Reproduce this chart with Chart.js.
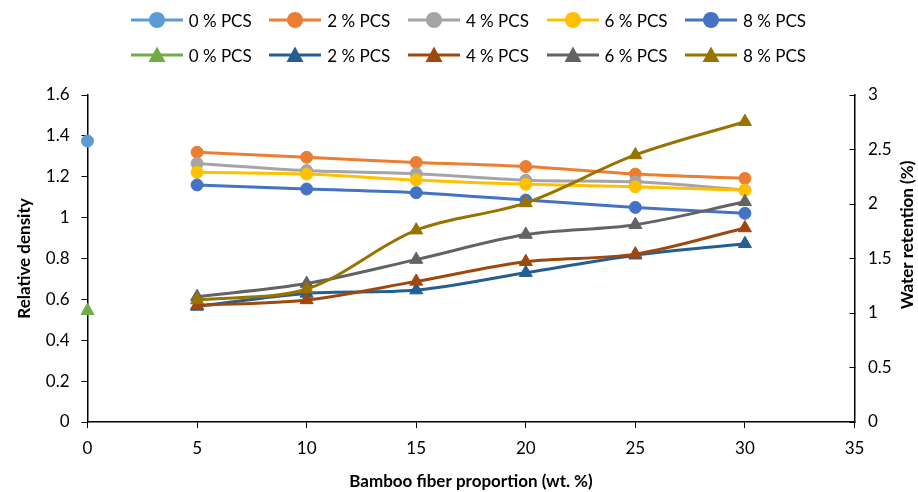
<!DOCTYPE html>
<html>
<head>
<meta charset="utf-8">
<script src="https://cdn.jsdelivr.net/npm/chart.js@4"></script>
<style>
  body { margin: 0; background: #fff; }
  #wrap { position: relative; width: 918px; height: 492px; font-family: Lato, "Open Sans", sans-serif; }
  #c { position: absolute; left: 0; top: 0; }
  .item { position: absolute; height: 20px; display: flex; align-items: center; font-size: 17px; color: #000; white-space: nowrap; }
  .item svg { margin-right: 6px; }
</style>
</head>
<body>
<div id="wrap">
  <canvas id="c" width="918" height="492"></canvas>
</div>
<script>
// x values (bamboo fiber, wt. %)
const fiberPlain = [0];
const fiberMixed = [5, 10, 15, 20, 25, 30];

const pcsLabels = ['0 % PCS', '2 % PCS', '4 % PCS', '6 % PCS', '8 % PCS'];

// relative density (left axis)
const density0 = [1.375];
const density2 = [1.32, 1.295, 1.27, 1.25, 1.213, 1.192];
const density4 = [1.265, 1.23, 1.215, 1.183, 1.175, 1.135];
const density6 = [1.222, 1.213, 1.184, 1.163, 1.151, 1.134];
const density8 = [1.16, 1.14, 1.122, 1.086, 1.05, 1.021];

// water retention % (right axis)
const water0 = [1.02];
const water2 = [1.06, 1.18, 1.21, 1.37, 1.53, 1.635];
const water4 = [1.07, 1.12, 1.29, 1.47, 1.54, 1.78];
const water6 = [1.15, 1.27, 1.49, 1.72, 1.81, 2.02];
const water8 = [1.12, 1.22, 1.76, 2.01, 2.45, 2.755];

const xTicks = [0, 5, 10, 15, 20, 25, 30, 35];

const circleColors = ['#5B9BD5', '#ED7D31', '#A5A5A5', '#FFC000', '#4472C4'];
const triColors = ['#70AD47', '#255E91', '#9E480E', '#636363', '#997300'];

const densitySeries = [density0, density2, density4, density6, density8];
const waterSeries = [water0, water2, water4, water6, water8];

function pts(ys) {
  const xs = ys.length === 1 ? fiberPlain : fiberMixed;
  return ys.map((y, i) => ({ x: xs[i], y: y }));
}

const datasets = [];
densitySeries.forEach((s, i) => {
  datasets.push({
    label: pcsLabels[i], data: pts(s), yAxisID: 'y',
    borderColor: circleColors[i], backgroundColor: circleColors[i],
    borderWidth: 3, pointStyle: 'circle', pointRadius: 6, pointBorderWidth: 1,
    tension: 0.33, clip: false
  });
});
waterSeries.forEach((s, i) => {
  datasets.push({
    label: pcsLabels[i], data: pts(s), yAxisID: 'y1',
    borderColor: triColors[i], backgroundColor: triColors[i],
    borderWidth: 3, pointStyle: 'triangle', pointRadius: 7.5, pointBorderWidth: 1,
    tension: 0.33, clip: false
  });
});
datasets.forEach((d, i) => { d.order = datasets.length - i; });

// no trailing zeros: 1, 2, 3 rather than 1.0, 2.0
const plainNum = v => String(Number(v.toFixed(2)));

// title on the right axis, reading bottom to top
const rightTitle = {
  id: 'rightTitle',
  afterDraw(chart) {
    const ctx = chart.ctx;
    ctx.save();
    ctx.translate(908, 235);
    ctx.rotate(-Math.PI / 2);
    ctx.font = 'bold 17px Lato';
    ctx.fillStyle = '#000';
    ctx.textAlign = 'center';
    ctx.textBaseline = 'middle';
    ctx.fillText('Water retention (%)', 0, 0);
    ctx.restore();
  }
};

Chart.defaults.font.family = 'Lato, "Open Sans", sans-serif';
Chart.defaults.color = '#000';

new Chart(document.getElementById('c'), {
  type: 'line',
  data: { datasets: datasets },
  options: {
    responsive: false,
    animation: false,
    layout: { padding: { top: 95, left: 0, right: 0, bottom: 0 } },
    plugins: { legend: { display: false }, tooltip: { enabled: false } },
    scales: {
      x: {
        type: 'linear', min: 0, max: 35,
        afterBuildTicks: s => { s.ticks = xTicks.map(v => ({ value: v })); },
        afterFit: s => { s.height = 70; },
        grid: { drawOnChartArea: false, color: '#000', tickLength: 6 },
        border: { color: '#000', width: 1.5 },
        ticks: { font: { size: 17 }, padding: 10, maxRotation: 0 },
        title: { display: true, text: 'Bamboo fiber proportion (wt. %)', font: { size: 17, weight: 'bold' }, padding: { top: 0, bottom: 0 } }
      },
      y: {
        position: 'left', min: 0, max: 1.6,
        ticks: { stepSize: 0.2, font: { size: 17 }, padding: 12, callback: plainNum },
        afterFit: s => { s.width = 87.5; },
        grid: { drawOnChartArea: false, color: '#000', tickLength: 6 },
        border: { color: '#000', width: 1.5 },
        title: { display: true, text: 'Relative density', font: { size: 17, weight: 'bold' }, padding: { top: 14, bottom: 0 } }
      },
      y1: {
        position: 'right', min: 0, max: 3,
        ticks: { stepSize: 0.5, font: { size: 17 }, padding: 18.5, callback: plainNum },
        afterFit: s => { s.width = 63.5; },
        grid: { drawOnChartArea: false, color: '#000', tickLength: -5 },
        border: { color: '#000', width: 1.5 }
      }
    }
  },
  plugins: [rightTitle]
});

// legend: two rows, circles then triangles
const wrap = document.getElementById('wrap');
function addItem(x, y, color, label, shape) {
  const d = document.createElement('div');
  d.className = 'item';
  d.style.left = x + 'px';
  d.style.top = (y - 10) + 'px';
  let mark;
  if (shape === 'circle') {
    mark = '<circle cx="26" cy="10" r="8" fill="' + color + '"/>';
  } else {
    mark = '<polygon points="26,1.5 34.5,17 17.5,17" fill="' + color + '"/>';
  }
  d.innerHTML = '<svg width="52" height="20"><line x1="0" y1="10" x2="52" y2="10" stroke="' + color +
    '" stroke-width="3"/>' + mark + '</svg><span>' + label + '</span>';
  wrap.appendChild(d);
}
pcsLabels.forEach((lab, i) => {
  addItem(130.7 + i * 138.6, 20, circleColors[i], lab, 'circle');
  addItem(130.7 + i * 138.6, 55, triColors[i], lab, 'triangle');
});
</script>
</body>
</html>
